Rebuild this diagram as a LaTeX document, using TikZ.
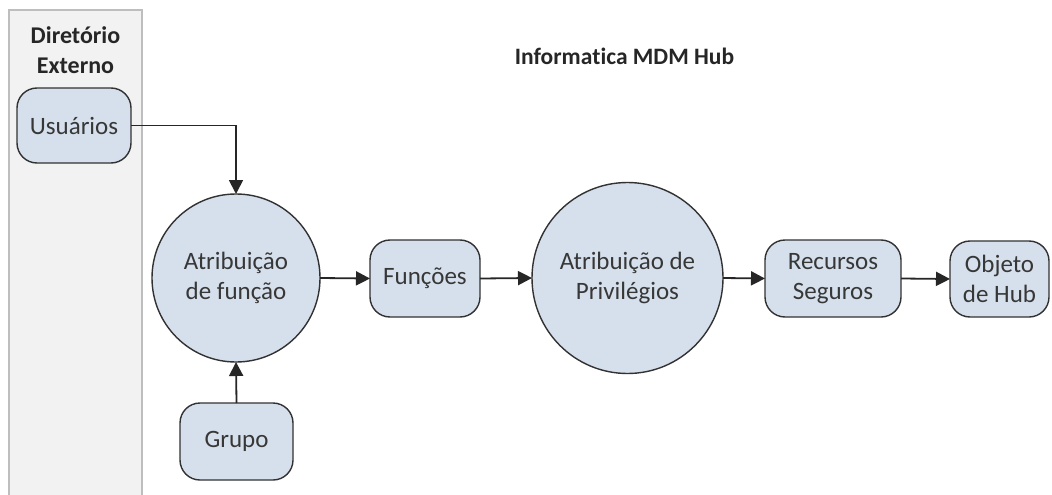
\documentclass[tikz,border=0pt]{standalone}
\usepackage{fontspec}
\setmainfont{Carlito}[Ligatures=NoCommon]
\usetikzlibrary{arrows.meta}
\definecolor{boxfill}{RGB}{214,224,236}
\definecolor{boxline}{RGB}{50,50,50}
\definecolor{panelfill}{RGB}{242,242,242}
\definecolor{panelline}{RGB}{190,190,190}
\definecolor{txt}{RGB}{55,55,55}
\begin{document}
\begin{tikzpicture}[x=1pt,y=-1pt,
  every node/.style={inner sep=0pt, outer sep=0pt, text=txt, align=center, font=\fontsize{25}{29.5}\selectfont},
  rbox/.style={draw=boxline, line width=1.4pt, fill=boxfill, rounded corners=20pt},
  bigcirc/.style={draw=boxline, line width=1.4pt, fill=boxfill, circle},
  conn/.style={draw=black!85, line width=1.8pt, -{Triangle[length=14pt,width=14pt]}},
  bold/.style={font=\fontsize{24}{30}\selectfont\bfseries, text=black!85}]
\useasboundingbox (0,0) rectangle (1052,495);
\fill[white] (0,0) rectangle (1052,495);
\draw[panelline, fill=panelfill, line width=1.6pt] (9,500) -- (9,10) -- (142,10) -- (142,500);
\node[bold] (dir) at (75.5,50) {Diretório\\Externo};
\node[bold, font=\fontsize{23.5}{30}\selectfont\bfseries] (title) at (624.5,56) {Informa\kern0pt tica MDM Hub};
\node[rbox, minimum width=114pt, minimum height=75pt] (usr) at (74,125.5) {Usuários};
\node[bigcirc, minimum size=168pt] (c1) at (236,278) {Atribuição\\de função};
\node[rbox, minimum width=110pt, minimum height=77pt] (fun) at (425,278.5) {Funções};
\node[bigcirc, minimum size=191pt] (c2) at (627.5,278) {Atribuição de\\Privilégios};
\node[rbox, minimum width=136pt, minimum height=77pt] (rec) at (833,278.5) {Recursos\\Seguros};
\node[rbox, minimum width=99pt, minimum height=76pt] (obj) at (999.5,279) {Objeto\\de Hub};
\node[rbox, minimum width=113pt, minimum height=77pt] (grp) at (236.5,441.5) {Grupo};
\draw[conn] (usr.east) -| (c1.north);
\draw[conn] (grp.north) -- (c1.south);
\draw[conn] (c1.east) -- (fun.west);
\draw[conn] (fun.east) -- (c2.west);
\draw[conn] (c2.east) -- (rec.west);
\draw[conn] (rec.east) -- (obj.west);
\end{tikzpicture}
\end{document}
